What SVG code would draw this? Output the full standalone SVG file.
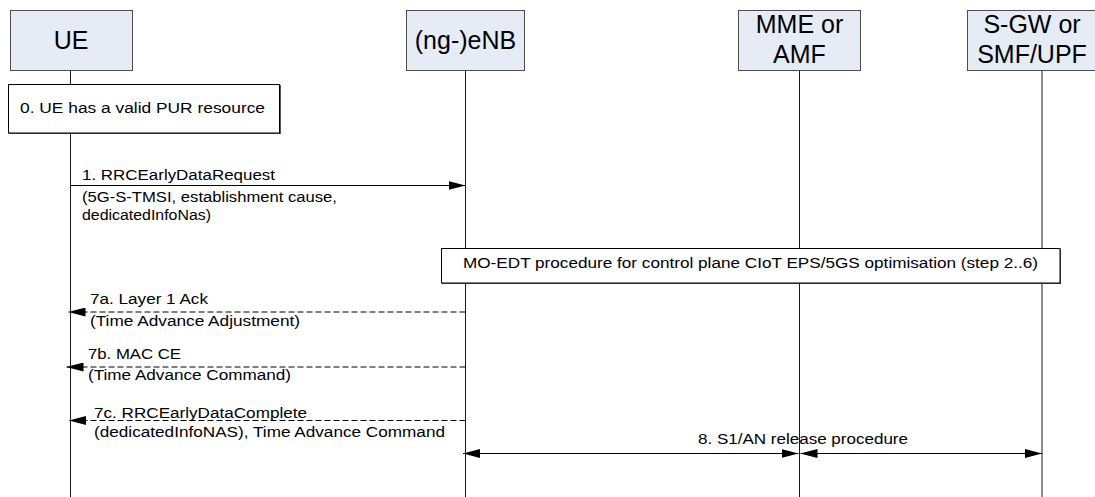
<svg xmlns="http://www.w3.org/2000/svg" width="1095" height="497" viewBox="0 0 1095 497">
<style>
text{font-family:"Liberation Sans",Arial,sans-serif;fill:#000}
.hdr{fill:#E6ECF6;stroke:#4d4d4d;stroke-width:1}
.ht{font-size:25px;text-anchor:middle}
.life{stroke:#1a1a1a;stroke-width:1;fill:none}
.box{fill:#fff;stroke:#000;stroke-width:1}
.shadow{fill:#555}
.t{font-size:14px}
.msg{stroke:#000;stroke-width:1;fill:none}
.dash{stroke-dasharray:6 3}
</style>
<defs>
<marker id="ah" viewBox="0 0 17 9" refX="17" refY="4.5" markerWidth="17" markerHeight="9" markerUnits="userSpaceOnUse" orient="auto-start-reverse">
<path d="M0,0 L17,4.5 L0,9 Z" fill="#000" stroke="none"/>
</marker>
</defs>
<g id="lifelines">
<line class="life" x1="70.5" y1="70" x2="70.5" y2="497"/>
<line class="life" x1="465.5" y1="70" x2="465.5" y2="497"/>
<line class="life" x1="799.5" y1="70" x2="799.5" y2="497"/>
<line class="life" x1="1042" y1="70" x2="1042" y2="497"/>
</g>
<g id="UE">
<rect class="hdr" x="10.5" y="10.5" width="122" height="60"/>
<text class="ht" x="71" y="49">UE</text>
</g>
<g id="eNB">
<rect class="hdr" x="406.5" y="10.5" width="118" height="60"/>
<text class="ht" x="465.5" y="49">(ng-)eNB</text>
</g>
<g id="MME">
<rect class="hdr" x="738.5" y="10.5" width="122" height="60"/>
<text class="ht" x="799.5" y="33">MME or</text>
<text class="ht" x="799.5" y="63">AMF</text>
</g>
<g id="SGW">
<rect class="hdr" x="967.5" y="10.5" width="130" height="60"/>
<text class="ht" x="1032" y="33">S-GW or</text>
<text class="ht" x="1032" y="63">SMF/UPF</text>
</g>
<g id="step0">
<rect class="shadow" x="9" y="85" width="272" height="49"/>
<rect class="box" x="8.5" y="84.5" width="271" height="48.5"/>
<text class="t" x="20" y="113" font-size="13.5" textLength="245" lengthAdjust="spacingAndGlyphs">0. UE has a valid PUR resource</text>
</g>
<g id="moedt">
<rect class="shadow" x="442" y="249" width="619" height="35"/>
<rect class="box" x="441.5" y="248.5" width="618.5" height="34.5"/>
<text class="t" x="463" y="268" textLength="575" lengthAdjust="spacingAndGlyphs">MO-EDT procedure for control plane CIoT EPS/5GS optimisation (step 2..6)</text>
</g>
<g id="connectors">
<line class="msg" x1="70.5" y1="185.5" x2="465.5" y2="185.5" marker-end="url(#ah)"/>
<line class="msg dash" x1="465.5" y1="312" x2="68.5" y2="312" marker-end="url(#ah)"/>
<line class="msg dash" x1="465.5" y1="367" x2="66.5" y2="367" marker-end="url(#ah)"/>
<line class="msg dash" x1="465.5" y1="420.5" x2="69" y2="420.5" marker-end="url(#ah)"/>
<line class="msg" x1="463" y1="453.5" x2="798.5" y2="453.5" marker-start="url(#ah)" marker-end="url(#ah)"/>
<line class="msg" x1="800.5" y1="453.5" x2="1042" y2="453.5" marker-start="url(#ah)" marker-end="url(#ah)"/>
</g>
<g id="labels">
<text class="t" x="82" y="180" textLength="193" lengthAdjust="spacingAndGlyphs">1. RRCEarlyDataRequest</text>
<text class="t" x="82" y="201.5" textLength="255" lengthAdjust="spacingAndGlyphs">(5G-S-TMSI, establishment cause,</text>
<text class="t" x="82" y="220" textLength="129" lengthAdjust="spacingAndGlyphs">dedicatedInfoNas)</text>
<text class="t" x="90" y="304" textLength="118" lengthAdjust="spacingAndGlyphs">7a. Layer 1 Ack</text>
<text class="t" x="90" y="325.5" textLength="210" lengthAdjust="spacingAndGlyphs">(Time Advance Adjustment)</text>
<text class="t" x="88" y="359" textLength="93" lengthAdjust="spacingAndGlyphs">7b. MAC CE</text>
<text class="t" x="88" y="380" textLength="203" lengthAdjust="spacingAndGlyphs">(Time Advance Command)</text>
<text class="t" x="94" y="417.5" textLength="213" lengthAdjust="spacingAndGlyphs">7c. RRCEarlyDataComplete</text>
<text class="t" x="94" y="436.5" textLength="351" lengthAdjust="spacingAndGlyphs">(dedicatedInfoNAS), Time Advance Command</text>
<text class="t" x="698" y="444" textLength="210" lengthAdjust="spacingAndGlyphs">8. S1/AN release procedure</text>
</g>
</svg>
